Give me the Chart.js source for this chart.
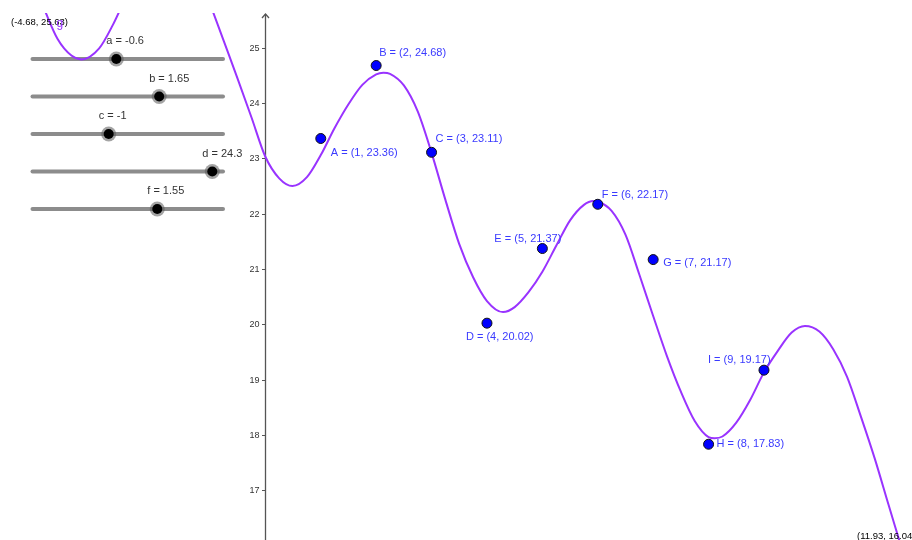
<!DOCTYPE html>
<html>
<head>
<meta charset="utf-8">
<script src="https://cdn.jsdelivr.net/npm/chart.js@4.4.0/dist/chart.umd.min.js"></script>
<style>
  body { margin: 0; background: #fff; }
  canvas { display: block; }
</style>
</head>
<body>
<canvas id="graph" width="912" height="540"></canvas>
<script>
'use strict'

// curve g, values (turning points added where they sit)
const curveX = [-4.75, -4.5, -4.25, -4, -3.75, -3.5, -3.32, -3, -2.75, -2.5, -2.25, -2, -1.7, -1.25, -1,
  -0.75, -0.5, -0.25, 0, 0.25, 0.49, 0.75, 1, 1.25, 1.5, 1.75, 2, 2.13, 2.25, 2.5, 2.75, 3, 3.25, 3.5, 3.75, 4,
  4.29, 4.5, 4.75, 5, 5.25, 5.5, 5.75, 5.92, 6, 6.25, 6.5, 6.75, 7, 7.25, 7.5, 7.75, 8, 8.11, 8.25, 8.5, 8.75, 9,
  9.25, 9.5, 9.74, 10, 10.25, 10.5, 10.75, 11, 11.25, 11.5, 11.75];
const curveY = [26.95, 26.65, 26.3, 25.72, 25.16, 24.86, 24.79, 24.99, 25.42, 25.95, 26.4, 26.7, 26.85, 26.5, 25.8,
  25.12, 24.44, 23.74, 23.03, 22.64, 22.5, 22.66, 23.06, 23.55, 23.98, 24.33, 24.52, 24.55, 24.53, 24.32, 23.85, 23.1, 22.25, 21.45, 20.85, 20.42,
  20.22, 20.31, 20.58, 20.95, 21.42, 21.88, 22.16, 22.23, 22.22, 22.05, 21.62, 20.9, 20.15, 19.42, 18.78, 18.25, 17.96, 17.94, 17.97, 18.22, 18.63, 19.13,
  19.52, 19.85, 19.97, 19.87, 19.55, 19.05, 18.33, 17.57, 16.73, 15.9, 15.05];

// points A..I
const pointNames = ['A', 'B', 'C', 'D', 'E', 'F', 'G', 'H', 'I'];
const pointX = [1, 2, 3, 4, 5, 6, 7, 8, 9];
const pointY = [23.36, 24.68, 23.11, 20.02, 21.37, 22.17, 21.17, 17.83, 19.17];

// sliders
const sliderNames = ['a', 'b', 'c', 'd', 'f'];
const sliderValues = [-0.6, 1.65, -1, 24.3, 1.55];
const sliderMin = [-5, -5, -5, 0, -5];
const sliderMax = [5, 5, 5, 25.75, 5];

const yTicks = [17, 18, 19, 20, 21, 22, 23, 24, 25];
const cornerTopLeft = '(-4.68, 25.63)';
const cornerBottomRight = '(11.93, 16.04)';

const FONT = '"Liberation Sans", Arial, sans-serif';
const PURPLE = '#9933ff';

// label offsets from each point (px), left edge / middle
const labelOffsets = [[10, 14], [3, -13], [4, -13], [-21, 14], [-48, -10], [4, -9], [10, 3], [8, 0], [-56, -10]];

const geoOverlay = {
  id: 'geoOverlay',
  beforeDatasetsDraw(chart) {
    const ctx = chart.ctx;
    const xs = chart.scales.x, ys = chart.scales.y;
    ctx.save();

    // y axis at x = 0 with ticks
    const ax = Math.round(xs.getPixelForValue(0)) + 0.5;
    ctx.strokeStyle = '#555';
    ctx.lineWidth = 1.3;
    ctx.beginPath();
    ctx.moveTo(ax, 14);
    ctx.lineTo(ax, chart.chartArea.bottom);
    ctx.stroke();
    ctx.beginPath();
    ctx.moveTo(ax - 3.5, 18);
    ctx.lineTo(ax, 14);
    ctx.lineTo(ax + 3.5, 18);
    ctx.stroke();
    ctx.font = '9px ' + FONT;
    ctx.fillStyle = '#333';
    ctx.textAlign = 'right';
    ctx.textBaseline = 'middle';
    ctx.lineWidth = 1;
    yTicks.forEach(v => {
      const py = Math.round(ys.getPixelForValue(v)) + 0.5;
      ctx.beginPath();
      ctx.moveTo(ax - 3.5, py);
      ctx.lineTo(ax, py);
      ctx.stroke();
      ctx.fillText(String(v), ax - 6, py + 0.5);
    });

    // sliders
    const x0 = 32.5, x1 = 223, y0 = 59, dy = 37.5;
    sliderNames.forEach((name, i) => {
      const y = y0 + i * dy;
      ctx.strokeStyle = '#8c8c8c';
      ctx.lineWidth = 4;
      ctx.lineCap = 'round';
      ctx.beginPath();
      ctx.moveTo(x0, y);
      ctx.lineTo(x1, y);
      ctx.stroke();
      const k = x0 + (sliderValues[i] - sliderMin[i]) / (sliderMax[i] - sliderMin[i]) * (x1 - x0);
      ctx.fillStyle = 'rgba(90,90,90,0.55)';
      ctx.beginPath();
      ctx.arc(k, y, 7.5, 0, Math.PI * 2);
      ctx.fill();
      ctx.fillStyle = '#000';
      ctx.beginPath();
      ctx.arc(k, y, 5, 0, Math.PI * 2);
      ctx.fill();
      ctx.font = '11px ' + FONT;
      ctx.fillStyle = '#333';
      ctx.textAlign = 'left';
      ctx.textBaseline = 'middle';
      ctx.fillText(name + ' = ' + sliderValues[i], k - 10, y - 18);
    });
    ctx.restore();
  },
  afterDatasetsDraw(chart) {
    const ctx = chart.ctx;
    const xs = chart.scales.x, ys = chart.scales.y;
    ctx.save();

    // point labels
    ctx.font = '11px ' + FONT;
    ctx.fillStyle = '#3a3aff';
    ctx.textAlign = 'left';
    ctx.textBaseline = 'middle';
    pointNames.forEach((n, i) => {
      const px = xs.getPixelForValue(pointX[i]) + labelOffsets[i][0];
      const py = ys.getPixelForValue(pointY[i]) + labelOffsets[i][1];
      ctx.fillText(n + ' = (' + pointX[i] + ', ' + pointY[i].toFixed(2) + ')', px, py);
    });

    // corner coordinates
    ctx.font = '9.5px ' + FONT;
    ctx.fillStyle = '#000';
    ctx.fillText(cornerTopLeft, 11, 22.5);
    ctx.fillText(cornerBottomRight, 857, 536);

    // function name
    ctx.font = '12px ' + FONT;
    ctx.fillStyle = PURPLE;
    ctx.textBaseline = 'alphabetic';
    ctx.fillText('g', 56.5, 27);
    ctx.restore();
  }
};

new Chart(document.getElementById('graph'), {
  type: 'line',
  data: {
    datasets: [{
      type: 'scatter',
      data: pointX.map((x, i) => ({x: x, y: pointY[i]})),
      pointRadius: 5,
      pointBackgroundColor: '#0000ff',
      pointBorderColor: '#111',
      pointBorderWidth: 1,
      showLine: false,
      order: 0
    }, {
      data: curveX.map((x, i) => ({x: x, y: curveY[i]})),
      borderColor: PURPLE,
      borderWidth: 2,
      pointRadius: 0,
      cubicInterpolationMode: 'monotone',
      fill: false,
      order: 1
    }]
  },
  options: {
    responsive: false,
    animation: false,
    devicePixelRatio: 1,
    layout: { autoPadding: false, padding: { top: 13, left: 0, right: 0, bottom: 0 } },
    elements: { line: { capBezierPoints: false } },
    plugins: { legend: { display: false }, tooltip: { enabled: false } },
    scales: {
      x: { type: 'linear', min: -4.79, max: 11.672, display: false },
      y: { type: 'linear', min: 16.098, max: 25.63, display: false }
    }
  },
  plugins: [geoOverlay]
});
</script>
</body>
</html>
